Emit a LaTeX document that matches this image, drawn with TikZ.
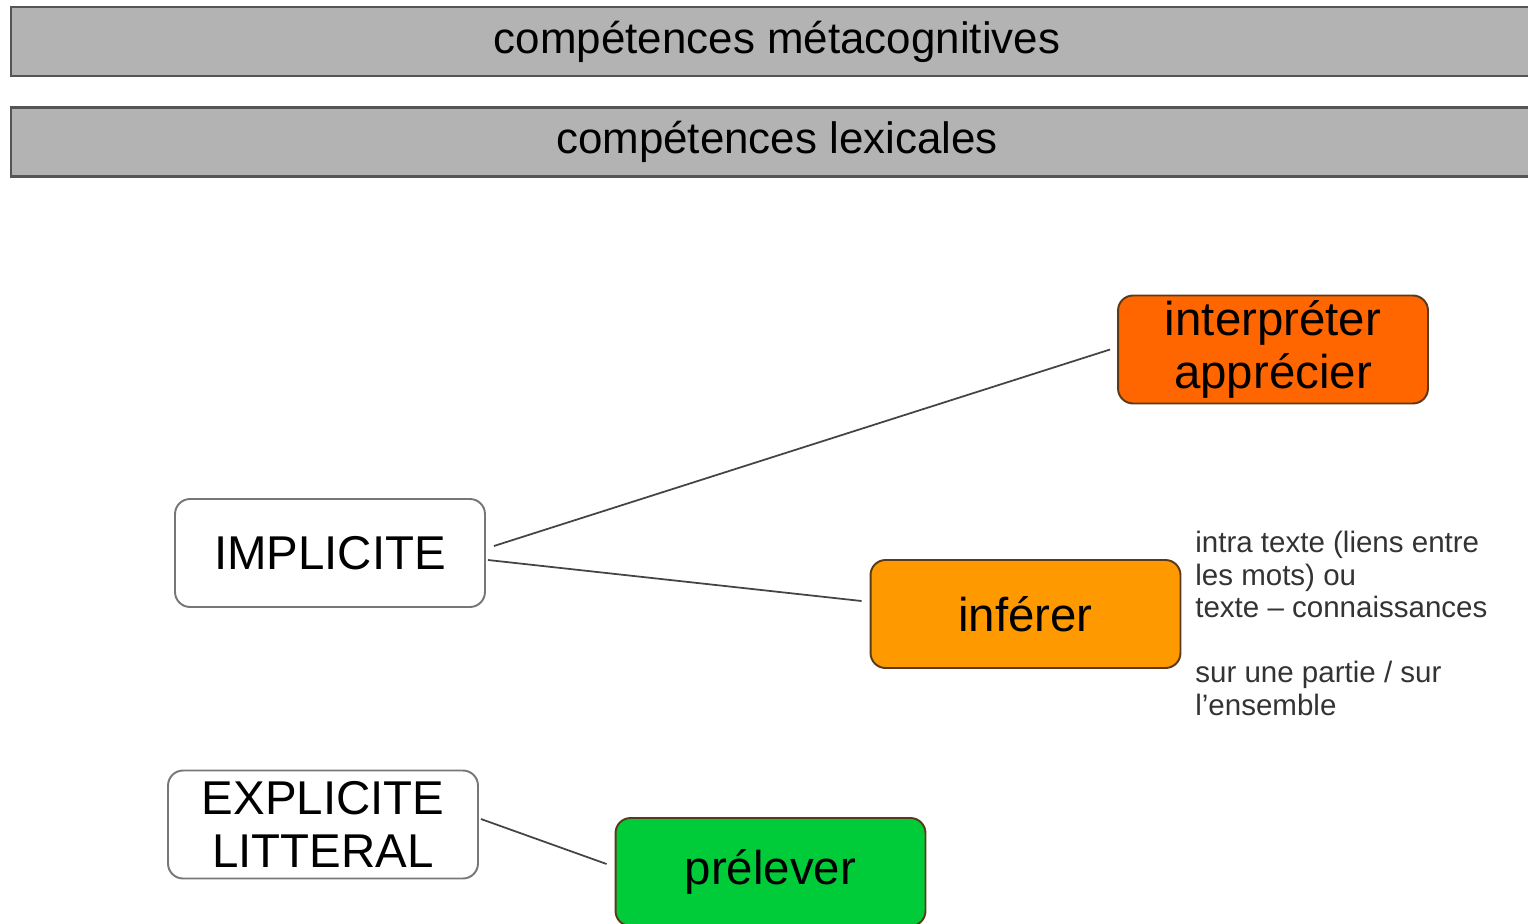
\documentclass[tikz,border=0pt]{standalone}
\usepackage{fontspec}
\setmainfont{Liberation Sans}

\definecolor{bargray}{HTML}{B3B3B3}
\definecolor{bardraw}{HTML}{555555}
\definecolor{linkgray}{HTML}{444444}
\definecolor{leveldraw}{HTML}{777777}
\definecolor{skilldraw}{HTML}{5A3A1A}
\definecolor{notegray}{HTML}{333333}
\definecolor{interpcol}{HTML}{FF6600}
\definecolor{infercol}{HTML}{FF9900}
\definecolor{prelcol}{HTML}{00CC3A}

\begin{document}
\begin{tikzpicture}[x=0.02cm, y=-0.02cm,
    bar/.style={draw=bardraw, fill=bargray, line width=1.2pt, minimum width=30.64cm, minimum height=1.38cm, inner sep=0pt, font=\fontsize{25}{28}\selectfont},
    box/.style={rounded corners=.3cm, line width=1.1pt, minimum width=6.2cm, minimum height=2.16cm, inner sep=2pt, align=center, font=\fontsize{27}{30}\selectfont},
    level/.style={box, draw=leveldraw, fill=white},
    skill/.style={box, draw=skilldraw, fill=#1},
    link/.style={draw=linkgray, line width=1pt},
    note/.style={anchor=north west, inner sep=0pt, align=left, text=notegray, font=\fontsize{16.8}{18.5}\selectfont}]
    % Page size
    \useasboundingbox (0,0) rectangle (1528,923);
    \clip (0,0) rectangle (1528,923);

    % Competence bars
    \foreach \name/\y/\txt in {meta/41.5/compétences métacognitives, lex/142/compétences lexicales} {
        \node[bar] (\name) at (777,\y) {\txt};
    }

    % Reading levels
    \node[level] (impl) at (330,553) {IMPLICITE};
    \node[level] (expl) at (323,824.5) {EXPLICITE\\LITTERAL};

    % Skills
    \node[skill=interpcol] (interp) at (1273,349.5) {interpréter\\apprécier};
    \node[skill=infercol] (infer) at (1025.5,614) {inférer};
    \node[skill=prelcol] (prel) at (770.5,872) {prélever};

    % Notes on inferring
    \node[note] (notes) at (1195,531) {intra texte (liens entre\\les mots) ou\\texte – connaissances\\[18.5pt]sur une partie / sur\\l’ensemble};

    % Links
    \draw[link] ([xshift=.16cm,yshift=.14cm]impl.east) -- ([xshift=-.14cm]interp.west);
    \draw[link] ([xshift=.04cm,yshift=-.14cm]impl.east) -- ([xshift=-.16cm,yshift=.26cm]infer.west);
    \draw[link] ([xshift=.04cm,yshift=.11cm]expl.east) -- ([xshift=-.16cm,yshift=.16cm]prel.west);
\end{tikzpicture}
\end{document}
